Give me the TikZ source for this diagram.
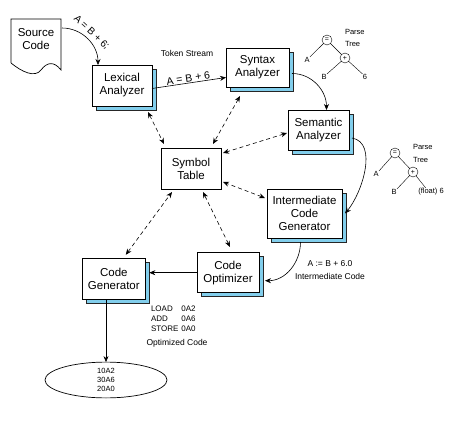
\documentclass[tikz,border=0pt]{standalone}
\usepackage{fontspec}
\setmainfont{Liberation Sans}
\usetikzlibrary{positioning,calc,shadows,shapes.geometric,arrows.meta}
\definecolor{shadowblue}{RGB}{130,206,236}
\newcommand{\boxfont}{\fontsize{11.5}{13}\selectfont}
\newcommand{\lblfont}{\fontsize{8.5}{13}\selectfont}
\tikzstyle{every node}=[inner sep=1pt, outer sep=0]
\tikzstyle{phase}=[draw, fill=white, align=center, font=\boxfont, line width=.7pt,
  drop shadow={shadow xshift=4pt, shadow yshift=-4pt, fill=shadowblue, draw=black!85, opacity=1}]
\tikzstyle{symtab}=[draw, fill=white, align=center, font=\boxfont, line width=.7pt]
\tikzstyle{lbl}=[font=\lblfont, align=center]
\tikzstyle{leaf}=[font=\fontsize{7.5}{9}\selectfont, inner sep=.5pt]
\tikzstyle{op}=[draw, circle, minimum size=10pt, inner sep=0, font=\fontsize{7}{7}\selectfont]
\tikzstyle{flow}=[-{Stealth[length=6pt,width=5pt]}, line width=.6pt]
\tikzstyle{lookup}=[{Stealth[length=6pt,width=5pt]}-{Stealth[length=6pt,width=5pt]}, line width=.6pt, dash pattern=on 4pt off 3pt]

\begin{document}
\begin{tikzpicture}[x=1pt, y=1pt]
    \useasboundingbox (0,0) rectangle (466,-428);
    % source document
    \draw[line width=.7pt] (11,-63) -- (11,-19) -- (61,-19) -- (61,-70)
        .. controls (54,-61) and (47,-62) .. (41,-70)
        .. controls (35,-78) and (22,-72) .. (11,-63);
    \node[font=\boxfont, align=center] (src) at (36,-39) {Source\\Code};
    \coordinate (srcout) at (62,-28);

    % compiler phases
    \node[phase, minimum width=60, minimum height=41] (lex) at (122,-85.5) {Lexical\\Analyzer};
    \node[phase, minimum width=63, minimum height=39] (syn) at (257.5,-67.5) {Syntax\\Analyzer};
    \node[phase, minimum width=61, minimum height=40] (sem) at (318.5,-130) {Semantic\\Analyzer};
    \node[phase, minimum width=75, minimum height=49] (icg) at (304.5,-213.5) {Intermediate\\Code\\Generator};
    \node[phase, minimum width=62, minimum height=40] (opt) at (228,-272.7) {Code\\Optimizer};
    \node[phase, minimum width=63, minimum height=41] (gen) at (113.8,-279) {Code\\Generator};
    \node[symtab, minimum width=60, minimum height=41] (sym) at (191,-168.5) {Symbol\\Table};
    \node[draw, ellipse, line width=.7pt, minimum width=122, minimum height=34, align=center,
          font=\fontsize{7.5}{9}\selectfont] (code) at (106,-380) {10A2\\30A6\\20A0};

    % main flow
    \draw[flow] (srcout) to[out=0,in=90] ($(lex.north west)+(6,0)$);
    \node[rotate=-43, font=\fontsize{10}{12}\selectfont] (srctxt) at (91.5,-32.5) {A = B + 6;};
    \draw[flow] ($(lex.east)+(0,-3)$) -- node[above, sloped, font=\fontsize{10.5}{12}\selectfont] (tokens) {A = B + 6} ($(syn.west)+(0,-10)$);
    \node[lbl] (tokstream) at (187,-53) {Token Stream};
    \draw[flow] ($(syn.east)+(3,-6)$) to[out=0,in=90] ($(sem.north)+(8,0)$);
    \draw[flow] ($(sem.east)+(3,-8)$) to[out=-10,in=50,looseness=.9] ($(icg.east)+(3,0)$);
    \draw[flow] ($(icg.south)+(-4,-4)$) to[out=-90,in=0] ($(opt.east)+(6,-8)$);
    \draw[flow] (opt.west) -- ($(opt.west -| gen.east)+(4,0)$);
    \draw[flow] (code.north |- gen.south) -- (code.north);

    % symbol table lookups
    \draw[lookup] ($(lex.south east)+(-4,-6)$) -- ($(sym.north west)+(3,4)$);
    \draw[lookup] ($(syn.south west)+(14,-9)$) -- ($(sym.north east)+(-8,4)$);
    \draw[lookup] ($(sem.west)+(-1,-3)$) -- ($(sym.east)+(2,15.5)$);
    \draw[lookup] ($(icg.west)+(-2,15.5)$) -- ($(sym.east)+(2,-13.5)$);
    \draw[lookup] ($(opt.north)+(2,5.7)$) -- ($(sym.south)+(12,-3)$);
    \draw[lookup] ($(gen.north)+(12,3.7)$) -- ($(sym.south west)+(11,-3)$);

    % parse tree after syntax analysis
    \node[op] (eq1) at (327,-40) {=};
    \node[op] (pl1) at (345,-58) {+};
    \node[leaf] (a1) at (307,-60) {A};
    \node[leaf] (b1) at (324,-77) {B};
    \node[leaf] (n1) at (365,-77) {6};
    \draw (eq1) -- (a1.north east);
    \draw (eq1) -- (pl1);
    \draw (pl1) -- (b1.north east);
    \draw (pl1) -- (n1.north west);
    \node[font=\fontsize{7.5}{12}\selectfont, align=left, anchor=west] (pt1) at (344,-38) {Parse\\Tree};

    % parse tree after semantic analysis
    \node[op] (eq2) at (395,-153) {=};
    \node[op] (pl2) at (413,-172) {+};
    \node[leaf] (a2) at (376,-174) {A};
    \node[leaf] (b2) at (394,-192) {B};
    \node[leaf] (f2) at (431,-192) {(float) 6};
    \draw (eq2) -- (a2.north east);
    \draw (eq2) -- (pl2);
    \draw (pl2) -- (b2.north east);
    \draw (pl2) -- ($(f2.north west)+(8,0)$);
    \node[font=\fontsize{7.5}{12.5}\selectfont, align=left, anchor=west] (pt2) at (412,-153.5) {Parse\\Tree};

    % intermediate and optimized code
    \node[lbl] (imcode) at (330,-270.5) {A := B + 6.0\\Intermediate Code};
    \node[anchor=north west, font=\fontsize{8}{10}\selectfont] (asm) at (150,-303)
        {\begin{tabular}{@{}l@{\hspace{3pt}}l@{}}LOAD & 0A2\\ADD & 0A6\\STORE & 0A0\end{tabular}};
    \node[lbl] (optcode) at (177,-343) {Optimized Code};
\end{tikzpicture}
\end{document}
